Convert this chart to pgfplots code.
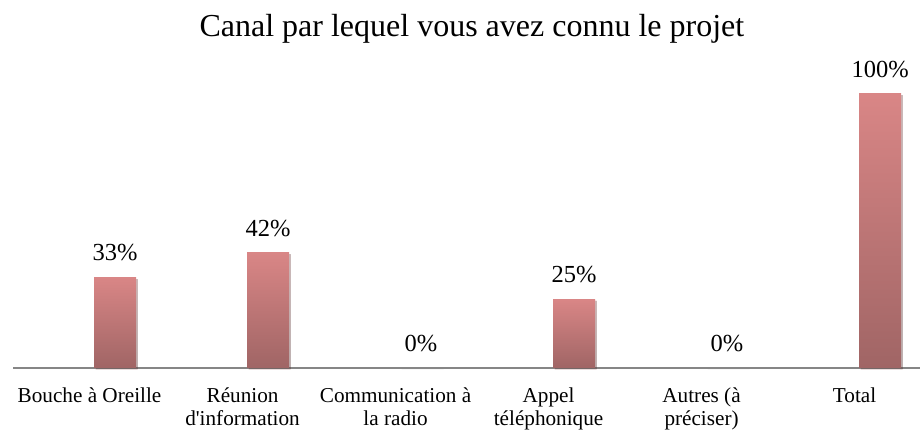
\documentclass[border=0pt]{standalone}
\usepackage{pgfplots}
\pgfplotsset{compat=1.18}
\usepackage{fontspec}
\setmainfont{Liberation Serif}
\usetikzlibrary{shadows}
\definecolor{bartop}{RGB}{217,134,134}
\definecolor{barbot}{RGB}{160,101,101}
\definecolor{axisgray}{RGB}{134,134,134}
\begin{document}
\begin{tikzpicture}
\begin{axis}[
  scale only axis, width=907pt, height=368pt,
  xmin=-0.667, xmax=5.261, ymin=0, ymax=134.3,
  axis x line*=bottom, axis y line=none,
  x axis line style={draw=axisgray, line width=1.5pt},
  xtick={0,...,5},
  xticklabels={Bouche à Oreille, Réunion\\d\textquotesingle information, Communication à\\la radio, Appel\\téléphonique, Autres (à\\préciser), Total},
  major tick length=0pt,
  xticklabel style={align=center, font=\fontsize{21.2}{23}\selectfont, yshift=-16.5pt, xshift=-25.5pt},
  ybar, bar width=42pt, bar shift=0pt,
  nodes near coords={\pgfmathprintnumber{\pgfplotspointmeta}\%},
  every node near coord/.append style={font=\fontsize{24.5}{27}\selectfont, text=black, yshift=13pt},
  /pgf/number format/assume math mode=true,
  clip=false,
  mybar/.style={draw=none, top color=bartop, bottom color=barbot,
    drop shadow={shadow xshift=1.5pt, shadow yshift=-1.5pt, opacity=0.22, fill=black}},
]
\addplot[mybar] coordinates {(0,33)};
\addplot[mybar] coordinates {(1,42)};
\addplot[mybar] coordinates {(2,0)};
\addplot[mybar] coordinates {(3,25)};
\addplot[mybar] coordinates {(4,0)};
\addplot[mybar] coordinates {(5,100)};
\node[font=\fontsize{32}{36}\selectfont, anchor=base] at (rel axis cs:0.506,0.902) {Canal par lequel vous avez connu le projet};
\end{axis}
\pgfresetboundingbox
\useasboundingbox (current axis.south west) ++(-13pt,-62pt) rectangle (current axis.north east);
\end{tikzpicture}
\end{document}
